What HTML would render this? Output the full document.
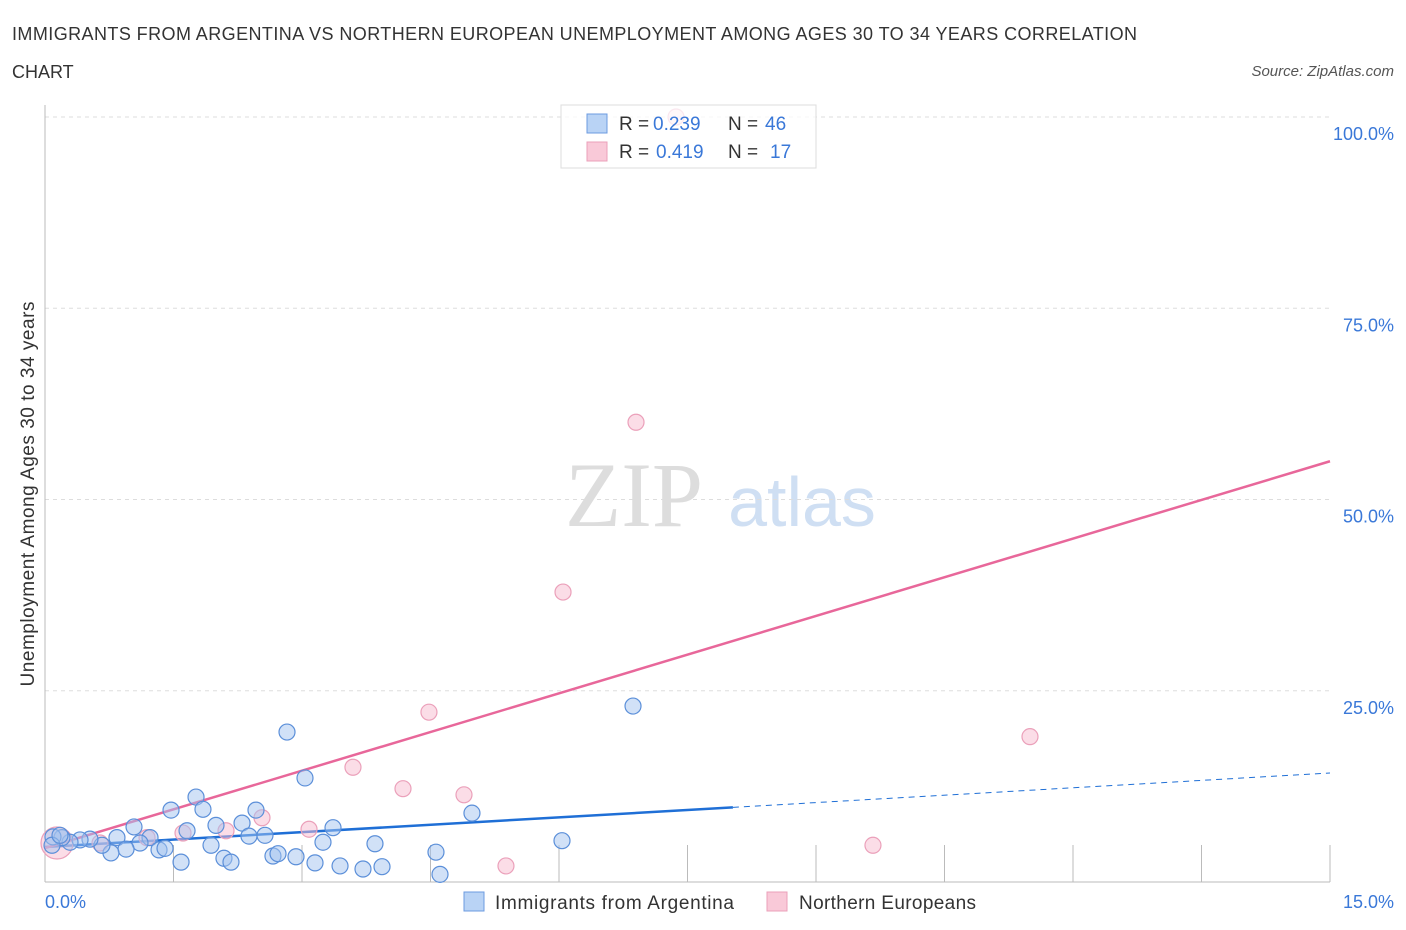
<!DOCTYPE html>
<html><head><meta charset="utf-8"><style>
body{margin:0;background:#fff;font-family:"Liberation Sans",sans-serif;}
</style></head><body>
<svg id="chart" width="1406" height="930" style="display:block">
<text x="12" y="40" font-size="18" fill="#333" textLength="1125">IMMIGRANTS FROM ARGENTINA VS NORTHERN EUROPEAN UNEMPLOYMENT AMONG AGES 30 TO 34 YEARS CORRELATION</text>
<text x="12" y="78" font-size="18" fill="#333">CHART</text>
<text x="1394" y="76" font-size="15" fill="#555" font-style="italic" text-anchor="end">Source: ZipAtlas.com</text>
<text x="634" y="526" font-size="92" fill="#ddd" font-family="Liberation Serif,serif" text-anchor="middle">ZIP</text>
<text x="802" y="526" font-size="70" fill="#cfdff3" text-anchor="middle">atlas</text>
<g id="grid"></g>
<g id="axes"></g>
<g id="lines"></g>
<g id="pts"></g>
<text transform="translate(34,494) rotate(-90)" font-size="19" fill="#333" text-anchor="middle" textLength="385">Unemployment Among Ages 30 to 34 years</text>
<text x="45" y="908" font-size="18" fill="#3a78d8">0.0%</text>
<text x="1394" y="908" font-size="18" fill="#3a78d8" text-anchor="end">15.0%</text>
<g>
<rect x="561" y="105" width="255" height="63" fill="rgba(255,255,255,0.75)" stroke="#ddd"/>
<rect x="587" y="114" width="20" height="19" fill="#b9d3f5" stroke="#6c9be0"/>
<rect x="587" y="142" width="20" height="19" fill="#f9c9d8" stroke="#eba0ba"/>
<text x="619" y="130" font-size="19" fill="#333">R =</text>
<text x="653" y="130" font-size="19" fill="#3a78d8">0.239</text>
<text x="728" y="130" font-size="19" fill="#333">N =</text>
<text x="765" y="130" font-size="19" fill="#3a78d8">46</text>
<text x="619" y="158" font-size="19" fill="#333">R =</text>
<text x="656" y="158" font-size="19" fill="#3a78d8">0.419</text>
<text x="728" y="158" font-size="19" fill="#333">N =</text>
<text x="770" y="158" font-size="19" fill="#3a78d8">17</text>
</g>
<g>
<rect x="464" y="892" width="20" height="19" fill="#b9d3f5" stroke="#6c9be0"/>
<text x="495" y="909" font-size="19" fill="#333" textLength="239">Immigrants from Argentina</text>
<rect x="767" y="892" width="20" height="19" fill="#f9c9d8" stroke="#eba0ba"/>
<text x="799" y="909" font-size="19" fill="#333" textLength="177">Northern Europeans</text>
</g>
</svg>
<script>
const blueX=[2.825,3.035,1.763,1.471,1.844,2.463,1.996,2.300,3.362,4.984,2.381,2.568,3.245,1.658,1.226,1.039,0.840,1.109,1.938,1.331,1.401,3.852,4.564,0.946,0.770,0.665,0.525,0.409,0.292,0.198,0.093,0.082,1.588,2.089,2.171,2.661,2.720,2.930,3.152,3.444,3.712,3.934,4.611,6.864,6.035,0.175];
const blueY=[19.6,13.6,11.1,9.4,9.5,9.4,7.4,7.7,7.1,9.0,6.0,6.1,5.2,6.7,5.8,7.2,5.8,5.1,4.8,4.2,4.4,5.0,3.9,4.3,3.8,4.8,5.6,5.5,5.2,5.8,5.9,4.8,2.6,3.1,2.6,3.4,3.7,3.3,2.5,2.1,1.7,2.0,1.0,23.0,5.4,6.1];
const pinkX=[7.366,6.899,6.047,4.482,11.498,3.595,4.179,4.891,2.533,3.082,1.611,2.113,9.665,5.381,0.140,0.642,1.191];
const pinkY=[100,60.1,37.9,22.2,19.0,15.0,12.2,11.4,8.4,6.9,6.4,6.7,4.8,2.1,5.1,5.1,5.8];
const pinkR=[8,8,8,8,8,8,8,8,8,8,8,8,8,8,16,8,8];
const yTicks=[25,50,75,100];
const yTickLabels=["25.0%","50.0%","75.0%","100.0%"];
const xTicks=[1.5,3,4.5,6,7.5,9,10.5,12,13.5,15];
const blueTrend=[4.58,14.25], blueSolidEnd=8.03;
const pinkTrend=[4.44,55.0];
const sx=v=>45+v/15*1285, sy=v=>882-v/100*765;
const NS="http://www.w3.org/2000/svg";
function mk(tag,parent,attrs){const e=document.createElementNS(NS,tag);for(const k in attrs)e.setAttribute(k,attrs[k]);document.getElementById(parent).appendChild(e);return e;}
yTicks.forEach((t,i)=>{
 const g=mk('line','grid',{x1:45,x2:1330,y1:sy(t),y2:sy(t),stroke:'#ddd','stroke-dasharray':'4,4'});
 
 
 const tx=mk('text','grid',{x:1394,y:sy(t)+23,'font-size':18,fill:'#3a78d8','text-anchor':'end'});
 tx.textContent=yTickLabels[i];
 
 
});
xTicks.forEach(t=>{
 const l=mk('line','axes',{x1:sx(t),x2:sx(t),y1:845,y2:882,stroke:'#bbb'});
 
 
});
let a=mk('line','axes',{x1:45,x2:45,y1:105,y2:882,stroke:'#bbb'});


a=mk('line','axes',{x1:45,x2:1330,y1:882,y2:882,stroke:'#bbb'});


const bAt=x=>blueTrend[0]+(blueTrend[1]-blueTrend[0])*x/15;
let l=mk('line','lines',{x1:sx(0),y1:sy(bAt(0)),x2:sx(blueSolidEnd),y2:sy(bAt(blueSolidEnd)),stroke:'#1f6fd6','stroke-width':2.5});


l=mk('line','lines',{x1:sx(blueSolidEnd),y1:sy(bAt(blueSolidEnd)),x2:sx(15),y2:sy(bAt(15)),stroke:'#1f6fd6','stroke-width':1,'stroke-dasharray':'6,5'});


l=mk('line','lines',{x1:sx(0),y1:sy(pinkTrend[0]),x2:sx(15),y2:sy(pinkTrend[1]),stroke:'#e8679a','stroke-width':2.5});


pinkX.forEach((x,i)=>{
 const c=mk('circle','pts',{cx:sx(x),cy:sy(pinkY[i]),r:pinkR[i],fill:'rgba(248,187,208,0.5)',stroke:'#eba0ba','stroke-width':1.2});
 
 
});
blueX.forEach((x,i)=>{
 const c=mk('circle','pts',{cx:sx(x),cy:sy(blueY[i]),r:8,fill:'rgba(164,196,240,0.5)',stroke:'#5b8fd9','stroke-width':1.2});
 
 
});
</script>
</body></html>
